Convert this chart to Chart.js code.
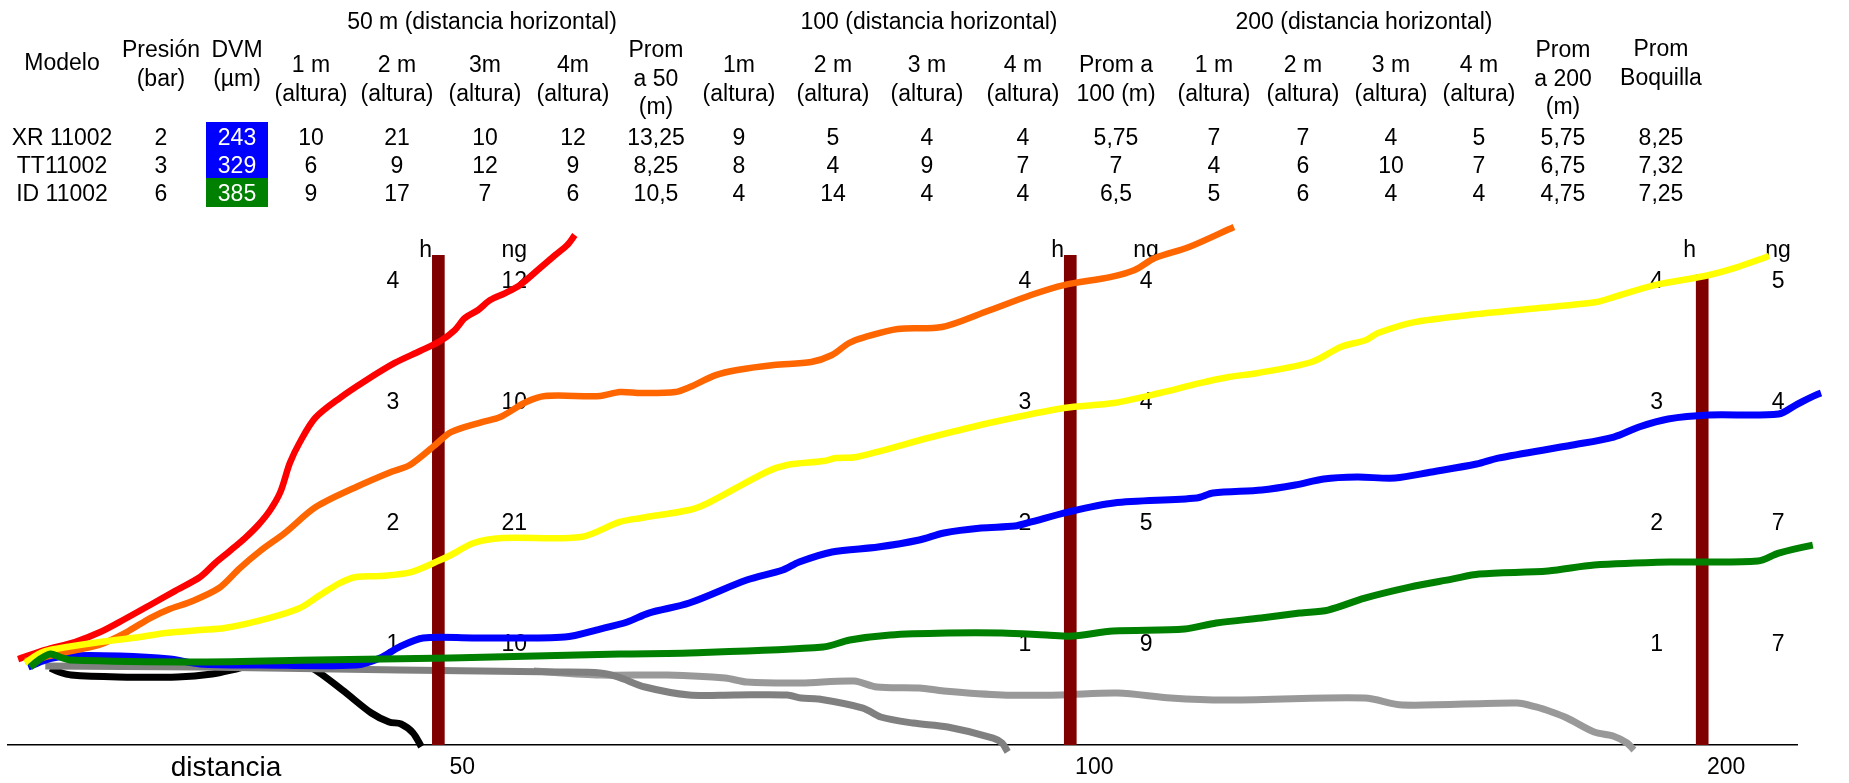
<!DOCTYPE html>
<html>
<head>
<meta charset="utf-8">
<script src="https://cdn.jsdelivr.net/npm/chart.js@4.4.1/dist/chart.umd.min.js"></script>
<style>
  body { margin: 0; background: #fff; font-family: "Liberation Sans", Arial, sans-serif; }
  #wrap { position: relative; width: 1849px; height: 783px; overflow: hidden; }
  #chart { position: absolute; left: 0; top: 0; }
  .cell { position: absolute; transform: translate(-50%, -50%); text-align: center; white-space: nowrap;
          font-size: 23px; line-height: 28.5px; color: #000; }
  .bg { position: absolute; }
</style>
</head>
<body>
<div id="wrap">
  <canvas id="chart" width="1849" height="783"></canvas>
  <div id="table"></div>
</div>
<script>
// ---- table data ----
const groupTitles = ["50 m (distancia horizontal)", "100 (distancia horizontal)", "200 (distancia horizontal)"];
const headerLines = [
  ["Modelo"], ["Presión", "(bar)"], ["DVM", "(µm)"],
  ["1 m", "(altura)"], ["2 m", "(altura)"], ["3m", "(altura)"], ["4m", "(altura)"], ["Prom", "a 50", "(m)"],
  ["1m", "(altura)"], ["2 m", "(altura)"], ["3 m", "(altura)"], ["4 m", "(altura)"], ["Prom a", "100 (m)"],
  ["1 m", "(altura)"], ["2 m", "(altura)"], ["3 m", "(altura)"], ["4 m", "(altura)"], ["Prom", "a 200", "(m)"],
  ["Prom", "Boquilla"]
];
const models = ["XR 11002", "TT11002", "ID 11002"];
const presion = [2, 3, 6];
const dvm = [243, 329, 385];
const h50 = [[10, 21, 10, 12], [6, 9, 12, 9], [9, 17, 7, 6]];
const prom50 = ["13,25", "8,25", "10,5"];
const h100 = [[9, 5, 4, 4], [8, 4, 9, 7], [4, 14, 4, 4]];
const prom100 = ["5,75", "7", "6,5"];
const h200 = [[7, 7, 4, 5], [4, 6, 10, 7], [5, 6, 4, 4]];
const prom200 = ["5,75", "6,75", "4,75"];
const promBoquilla = ["8,25", "7,32", "7,25"];

// ---- chart data (x: station index, y: height) ----
const stations = [1, 2, 3];
const stationLabels = ["50", "100", "200"];
const hLevels = [1, 2, 3, 4];
const barTops = [4.22, 4.22, 4.06];
const groundLevel = 0.17;

const redX = [0.335,0.378,0.425,0.465,0.504,0.544,0.583,0.623,0.647,0.670,0.694,0.715,0.734,0.750,0.765,0.781,0.805,0.844,0.884,0.931,0.971,1.003,1.026,1.042,1.063,1.082,1.106,1.129,1.161,1.185,1.204,1.216];
const redY = [0.884,0.959,1.025,1.107,1.215,1.331,1.446,1.562,1.678,1.777,1.884,1.992,2.116,2.264,2.504,2.678,2.876,3.041,3.182,3.331,3.430,3.512,3.603,3.702,3.769,3.851,3.909,3.975,4.116,4.223,4.306,4.388];

const orangeX = [0.346,0.378,0.412,0.463,0.507,0.544,0.575,0.607,0.653,0.686,0.718,0.757,0.806,0.870,0.925,0.955,0.995,1.020,1.069,1.098,1.139,1.169,1.256,1.287,1.321,1.375,1.398,1.439,1.473,1.531,1.590,1.623,1.650,1.675,1.727,1.797,1.865,1.938,1.990,2.063,2.102,2.134,2.188,2.259];
const orangeY = [0.868,0.901,0.942,1.000,1.107,1.223,1.298,1.355,1.471,1.636,1.777,1.926,2.140,2.306,2.430,2.488,2.653,2.760,2.843,2.884,3.008,3.058,3.058,3.091,3.083,3.091,3.132,3.231,3.273,3.314,3.339,3.397,3.496,3.545,3.612,3.628,3.752,3.893,3.975,4.041,4.099,4.198,4.289,4.455];

const yellowX = [0.346,0.362,0.378,0.412,0.465,0.528,0.569,0.623,0.662,0.732,0.781,0.813,0.844,0.870,0.908,0.957,1.003,1.020,1.056,1.101,1.226,1.287,1.321,1.397,1.427,1.519,1.552,1.610,1.629,1.662,1.781,1.879,1.990,2.069,2.142,2.205,2.251,2.297,2.382,2.428,2.468,2.487,2.545,2.631,2.742,2.833,2.860,2.925,3.004,3.056,3.106];
const yellowY = [0.851,0.909,0.950,0.983,1.025,1.066,1.099,1.124,1.140,1.223,1.306,1.413,1.512,1.562,1.570,1.603,1.702,1.744,1.843,1.884,1.893,2.017,2.050,2.116,2.174,2.430,2.488,2.521,2.545,2.554,2.719,2.843,2.959,3.000,3.083,3.165,3.215,3.248,3.339,3.463,3.521,3.579,3.669,3.727,3.785,3.835,3.876,3.975,4.050,4.124,4.215];

const blueX = [0.351,0.378,0.412,0.496,0.575,0.623,0.718,0.870,0.908,0.938,0.976,1.056,1.200,1.256,1.299,1.333,1.397,1.488,1.545,1.571,1.623,1.696,1.761,1.800,1.859,1.912,1.938,1.996,2.069,2.200,2.226,2.303,2.356,2.401,2.454,2.514,2.572,2.643,2.677,2.795,2.860,2.900,2.946,3.011,3.121,3.148,3.188,3.221];
const blueY = [0.818,0.876,0.909,0.909,0.884,0.843,0.835,0.835,0.893,0.983,1.058,1.058,1.066,1.132,1.190,1.264,1.347,1.537,1.620,1.686,1.769,1.810,1.868,1.926,1.967,1.983,2.017,2.099,2.174,2.215,2.256,2.281,2.322,2.372,2.388,2.380,2.430,2.496,2.545,2.653,2.719,2.802,2.868,2.901,2.909,2.983,3.083,3.107];

const greenX = [0.354,0.370,0.386,0.401,0.417,0.623,0.806,1.019,1.287,1.397,1.609,1.651,1.715,1.806,1.892,1.962,2.004,2.068,2.181,2.231,2.302,2.363,2.408,2.466,2.537,2.604,2.647,2.756,2.829,2.949,3.088,3.121,3.175,3.224];
const greenY = [0.818,0.884,0.926,0.901,0.876,0.860,0.876,0.893,0.926,0.934,0.983,1.041,1.083,1.099,1.099,1.083,1.074,1.116,1.132,1.182,1.223,1.264,1.289,1.388,1.479,1.545,1.587,1.612,1.661,1.686,1.694,1.760,1.826,1.868];

const blackX = [0.386,0.400,0.419,0.493,0.587,0.642,0.680,0.707,0.773,0.800,0.848,0.894,0.922,0.941,0.960,0.973];
const blackY = [0.810,0.777,0.752,0.736,0.736,0.760,0.802,0.835,0.843,0.810,0.628,0.438,0.364,0.347,0.273,0.160];

const grayX = [0.378,0.623,0.939,1.193,1.256,1.284,1.327,1.397,1.468,1.552,1.574,1.602,1.672,1.700,1.751,1.806,1.878,1.892,1.901];
const grayY = [0.826,0.818,0.793,0.777,0.769,0.736,0.653,0.587,0.587,0.587,0.562,0.554,0.479,0.405,0.355,0.322,0.231,0.190,0.116];

const lightGrayX = [1.151,1.256,1.362,1.454,1.488,1.574,1.658,1.694,1.761,1.800,1.892,1.984,2.075,2.159,2.245,2.466,2.526,2.707,2.737,2.762,2.786,2.829,2.859,2.881,2.892];
const lightGrayY = [0.785,0.752,0.752,0.727,0.694,0.686,0.702,0.653,0.645,0.620,0.587,0.587,0.603,0.562,0.545,0.562,0.504,0.521,0.488,0.446,0.397,0.281,0.248,0.190,0.132];

// ---- table layout ----
const colX = [62,161,237,311,397,485,573,656,739,833,927,1023,1116,1214,1303,1391,1479,1563,1661];
const headerY = [62,63,63,78,78,78,78,78,78,78,78,78,78,78,78,78,78,78,62];
const groupX = [482, 929, 1364];
const rowY = [137, 165, 193];
const dvmColors = ["#0000ff", "#0000ff", "#008000"];

const table = document.getElementById("table");
const addCell = (html, x, y, color) => {
  const d = document.createElement("div");
  d.className = "cell";
  d.innerHTML = html;
  d.style.left = x + "px";
  d.style.top = y + "px";
  if (color) d.style.color = color;
  table.appendChild(d);
};
groupTitles.forEach((t, i) => addCell(t, groupX[i], 21));
headerLines.forEach((lines, i) => addCell(lines.join("<br>"), colX[i], headerY[i]));
models.forEach((m, r) => {
  const bg = document.createElement("div");
  bg.className = "bg";
  bg.style.cssText = `left:206px;top:${rowY[r] - 15}px;width:62px;height:29px;background:${dvmColors[r]}`;
  table.appendChild(bg);
  const row = [m, presion[r], dvm[r], ...h50[r], prom50[r], ...h100[r], prom100[r], ...h200[r], prom200[r], promBoquilla[r]];
  row.forEach((v, c) => addCell(String(v), colX[c], rowY[r], c === 2 ? "#fff" : null));
});

// ng values shown on the chart come from the XR 11002 row
const ngRows = [h50[0], h100[0], h200[0]];

const font = '"Liberation Sans", Arial, sans-serif';
const textPlugin = {
  id: "textPlugin",
  beforeDatasetsDraw(chart) {
    const { ctx, scales: { x, y } } = chart;
    ctx.save();
    ctx.fillStyle = "#000";
    ctx.textAlign = "center";
    ctx.textBaseline = "middle";
    ctx.font = "23px " + font;
    stations.forEach((s, i) => {
      hLevels.forEach((h, k) => {
        ctx.fillText(String(h), x.getPixelForValue(s - 0.072), y.getPixelForValue(h));
        ctx.fillText(String(ngRows[i][k]), x.getPixelForValue(s + 0.12), y.getPixelForValue(h));
      });
      ctx.fillText("h", x.getPixelForValue(s - 0.02), y.getPixelForValue(4.256));
      ctx.fillText("ng", x.getPixelForValue(s + 0.12), y.getPixelForValue(4.256));
    });
    ctx.font = "28px " + font;
    ctx.fillText("distancia", x.getPixelForValue(0.664), chart.chartArea.bottom + 23);
    ctx.restore();
  }
};

const line = (xs, ys, color, order, width) => ({
  type: "line",
  data: xs.map((v, i) => ({ x: v, y: ys[i] })),
  borderColor: color,
  borderWidth: width || 7,
  pointRadius: 0,
  tension: 0.3,
  borderJoinStyle: "round",
  clip: false,
  order: order
});

new Chart(document.getElementById("chart"), {
  type: "line",
  data: {
    datasets: [
      line(greenX, greenY, "#008000", 1),
      line(yellowX, yellowY, "#ffff00", 2, 6.5),
      line(orangeX, orangeY, "#ff6600", 3, 6.5),
      line(redX, redY, "#ff0000", 4, 6.5),
      line(blueX, blueY, "#0000ff", 5),
      {
        type: "bar",
        data: stations.map((s, i) => ({ x: s, y: [groundLevel, barTops[i]] })),
        backgroundColor: "#800000",
        barThickness: 12,
        order: 6
      },
      line(grayX, grayY, "#808080", 7),
      line(lightGrayX, lightGrayY, "#999999", 8),
      line(blackX, blackY, "#000000", 9)
    ]
  },
  options: {
    responsive: false,
    animation: false,
    devicePixelRatio: 1,
    layout: { padding: { left: 8, right: 52, top: 215, bottom: 0 } },
    plugins: { legend: { display: false }, tooltip: { enabled: false } },
    scales: {
      x: {
        type: "linear",
        min: 0.319,
        max: 3.15,
        offset: false,
        grid: { display: false, drawTicks: false },
        border: { display: true, color: "#000", width: 1.5 },
        afterBuildTicks: (s) => { s.ticks = stations.map((v) => ({ value: v })); },
        afterFit: (s) => { s.height = 38; },
        ticks: {
          callback: (v, i) => stationLabels[i],
          labelOffset: 24,
          padding: 9,
          autoSkip: false,
          maxRotation: 0,
          color: "#000",
          font: { size: 23, family: font }
        }
      },
      y: { type: "linear", display: false, min: 0.1736, max: 4.554 }
    }
  },
  plugins: [textPlugin]
});
</script>
</body>
</html>
